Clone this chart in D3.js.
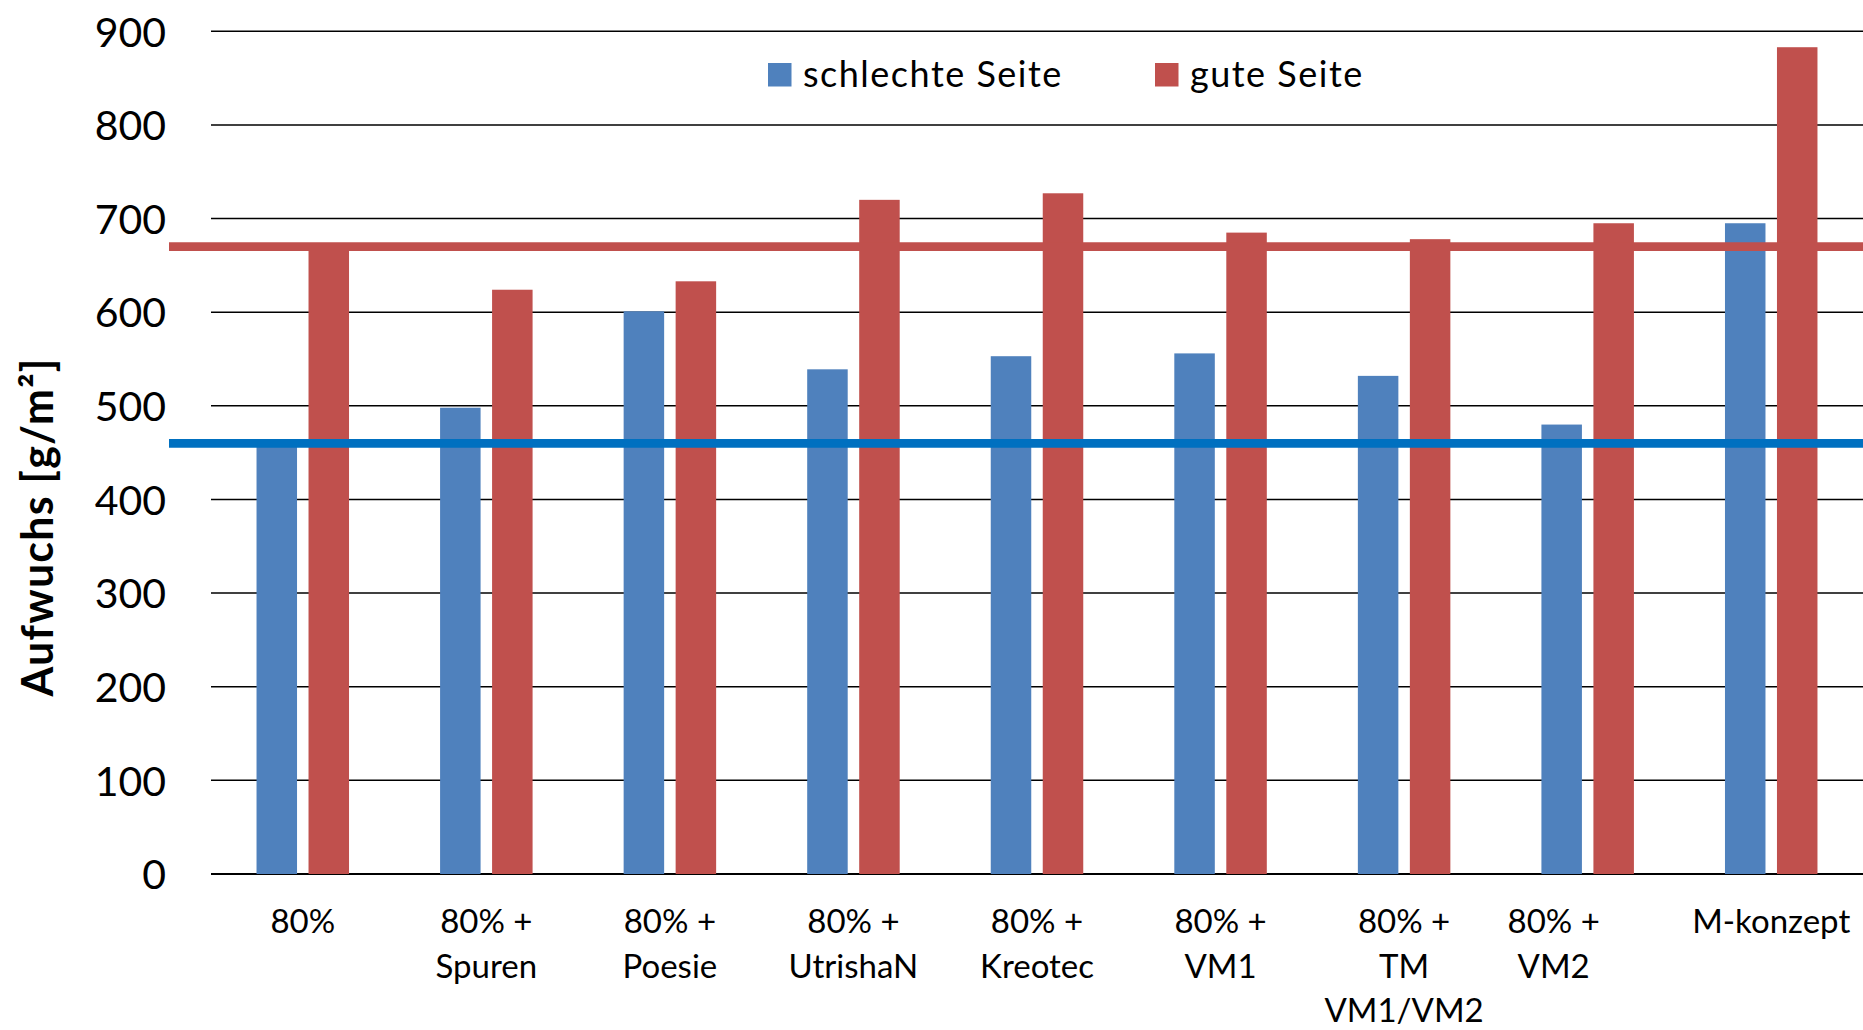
<!DOCTYPE html>
<html>
<head>
<meta charset="utf-8">
<script src="https://cdn.jsdelivr.net/npm/d3@7"></script>
<style>
  html, body { margin: 0; padding: 0; background: #fff; }
  svg { display: block; }
  text { font-family: Lato, "Open Sans", sans-serif; fill: #000; }
</style>
</head>
<body>
<svg id="chart" width="1863" height="1030"></svg>
<script>
// Treatments (category axis); "\n" splits a label into lines
const categories = [
  "80%",
  "80% +\nSpuren",
  "80% +\nPoesie",
  "80% +\nUtrishaN",
  "80% +\nKreotec",
  "80% +\nVM1",
  "80% +\nTM\nVM1/VM2",
  "80% +\nVM2",
  "M-konzept"
];

// Growth in g/m² per side
const seriesNames = ["schlechte Seite", "gute Seite"];
const schlechteSeite = [460, 498, 601, 539, 553, 556, 532, 480, 695];
const guteSeite      = [670, 624, 633, 720, 727, 685, 678, 695, 883];

// Reference levels (80% treatment) for each side
const referenceLevels = [460, 670];

// Value axis
const yTicks = [0, 100, 200, 300, 400, 500, 600, 700, 800, 900];
const yTitle = "Aufwuchs [g/m²]";

const colors = ["#4F81BD", "#C0504D"];
const refColors = ["#0070C0", "#C0504D"];

const svg = d3.select("#chart");
const W = 1863, H = 1030;
const plot = { left: 211, right: 1863, top: 31.3, bottom: 874 };

const x0 = d3.scaleBand()
  .domain(categories)
  .range([plot.left, plot.right])
  .paddingInner(0).paddingOuter(0);

const pairWidth = 92.5;
const x1 = d3.scaleBand()
  .domain(seriesNames)
  .range([0, pairWidth])
  .paddingInner(0.221).paddingOuter(0);

const y = d3.scaleLinear()
  .domain([0, 900])
  .range([plot.bottom, plot.top]);

// horizontal gridlines
svg.append("g").selectAll("line")
  .data(yTicks)
  .join("line")
  .attr("x1", plot.left).attr("x2", plot.right)
  .attr("y1", d => y(d)).attr("y2", d => y(d))
  .attr("stroke", "#000")
  .attr("stroke-width", d => d === 0 ? 2.2 : 1.5);

// y axis labels
const yAxis = d3.axisLeft(y).tickValues(yTicks).tickSize(0).tickPadding(0);
const yAxisG = svg.append("g")
  .attr("transform", `translate(166,0)`)
  .call(yAxis);
yAxisG.select(".domain").remove();
yAxisG.selectAll("text")
  .attr("font-family", "Lato, sans-serif")
  .attr("font-size", 41)
  .attr("fill", "#000")
  .attr("dy", "0.36em");

// y axis title
svg.append("text")
  .attr("transform", `translate(53,527) rotate(-90)`)
  .attr("text-anchor", "middle")
  .attr("font-size", 43)
  .attr("font-weight", 700)
  .attr("letter-spacing", 1.2)
  .text(yTitle);

// bars
const rows = categories.map((c, i) => ({
  cat: c,
  values: [schlechteSeite[i], guteSeite[i]]
}));

const groups = svg.append("g").selectAll("g")
  .data(rows)
  .join("g")
  .attr("transform", d => `translate(${x0(d.cat) + (x0.bandwidth() - pairWidth) / 2},0)`);

groups.selectAll("rect")
  .data(d => d.values.map((v, k) => ({ key: seriesNames[k], v, k })))
  .join("rect")
  .attr("x", d => x1(d.key))
  .attr("width", x1.bandwidth())
  .attr("y", d => y(d.v))
  .attr("height", d => y(0) - y(d.v))
  .attr("fill", d => colors[d.k]);

// reference lines on top of bars
svg.append("g").selectAll("line")
  .data(referenceLevels)
  .join("line")
  .attr("x1", 169).attr("x2", W)
  .attr("y1", d => y(d)).attr("y2", d => y(d))
  .attr("stroke", (d, i) => refColors[i])
  .attr("stroke-width", 8.7);

// category labels (multi-line)
const labelShift = { "80% +\nVM2": -34 };
const lineHeight = 44.5;
const catG = svg.append("g");
categories.forEach(c => {
  const cx = x0(c) + x0.bandwidth() / 2 + (labelShift[c] || 0);
  const t = catG.append("text")
    .attr("text-anchor", "middle")
    .attr("font-size", 33)
    .attr("x", cx)
    .attr("y", 933);
  c.split("\n").forEach((line, i) => {
    t.append("tspan")
      .attr("x", cx)
      .attr("dy", i === 0 ? 0 : lineHeight)
      .text(line);
  });
});

// legend
const legendX = [768, 1155];
const legend = svg.append("g").selectAll("g")
  .data(seriesNames)
  .join("g")
  .attr("transform", (d, i) => `translate(${legendX[i]},63)`);
legend.append("rect")
  .attr("width", 23.5).attr("height", 23.5)
  .attr("fill", (d, i) => colors[i]);
legend.append("text")
  .attr("x", 35).attr("y", 24)
  .attr("font-size", 36)
  .attr("letter-spacing", 1.5)
  .text(d => d);
</script>
</body>
</html>
